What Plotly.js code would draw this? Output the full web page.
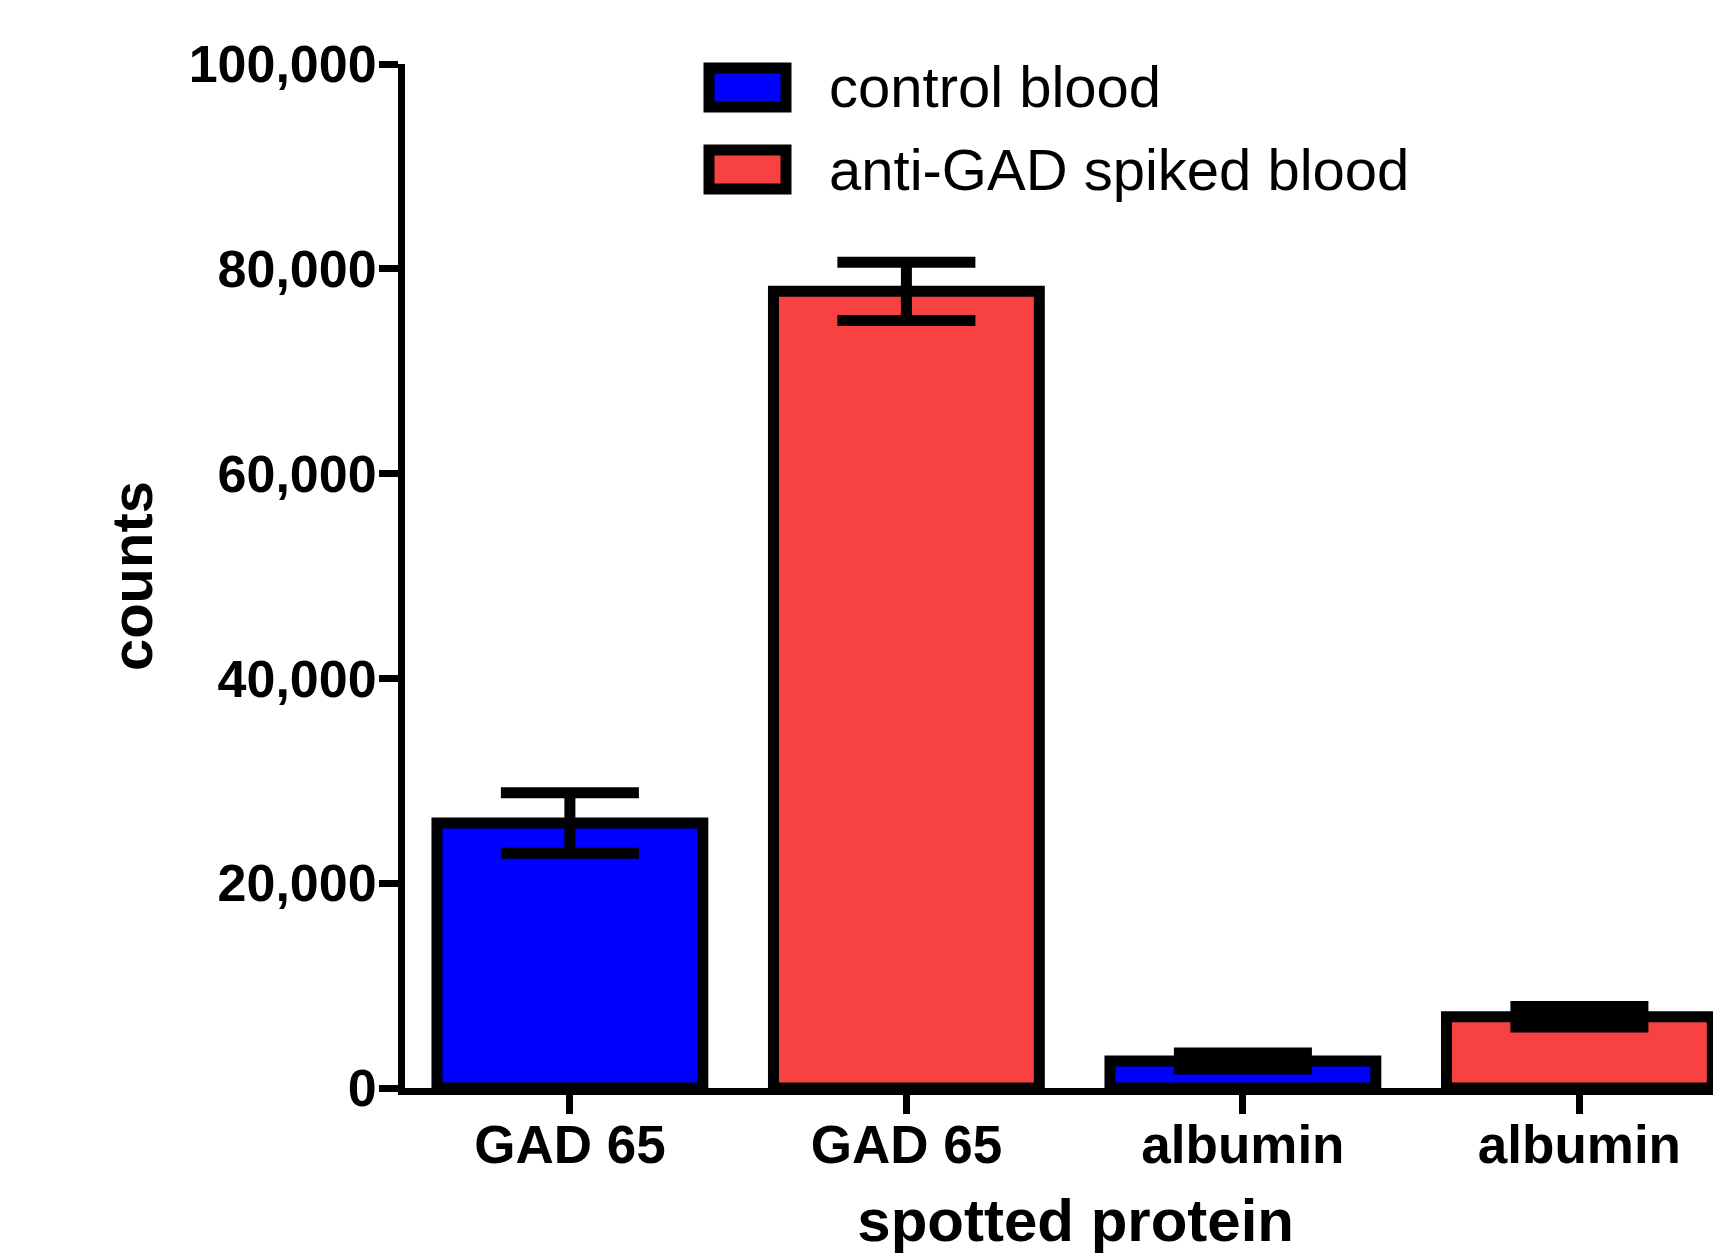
<!DOCTYPE html>
<html>
<head>
<meta charset="utf-8">
<script src="https://cdn.plot.ly/plotly-3.0.1.min.js"></script>
<style>
  html, body { margin: 0; padding: 0; background: #ffffff; }
  #chart { width: 1713px; height: 1254px; }
</style>
</head>
<body>
<div id="chart"></div>
<script>
// ---- data ----
const proteins = ["GAD 65", "albumin"];
const seriesNames = ["control blood", "anti-GAD spiked blood"];
const controlMean = [25880, 2630];
const controlErr  = [2950, 780];
const spikedMean  = [77800, 6950];
const spikedErr   = [2850, 1000];
const yTickVals = [0, 20000, 40000, 60000, 80000, 100000];

// ---- styling ----
const BLUE = "#0000FF";
const RED = "#F84242";
const FONT = "Liberation Sans, Arial, sans-serif";
const W = 1713, H = 1254;
const M = { l: 405, r: 0, t: 64, b: 166 };
const plotW = W - M.l - M.r, plotH = H - M.t - M.b;
const px2x = p => (p - M.l) / plotW;
const px2y = p => (H - M.b - p) / plotH;

// each protein has a control bar followed by a spiked bar
const xControl = proteins.map((_, i) => 2 * i);
const xSpiked = proteins.map((_, i) => 2 * i + 1);
const tickVals = [];
const tickText = [];
proteins.forEach((p, i) => { tickVals.push(2 * i, 2 * i + 1); tickText.push(p, p); });

const barCommon = {
  type: "bar",
  width: 0.79,
  showlegend: false,
  cliponaxis: true,
  hoverinfo: "y"
};

const traces = [
  Object.assign({}, barCommon, {
    name: seriesNames[0],
    x: xControl,
    y: controlMean,
    marker: { color: BLUE, line: { color: "#000000", width: 11 } },
    error_y: { type: "data", array: controlErr, visible: true, color: "#000000", thickness: 11, width: 69 }
  }),
  Object.assign({}, barCommon, {
    name: seriesNames[1],
    x: xSpiked,
    y: spikedMean,
    marker: { color: RED, line: { color: "#000000", width: 11 } },
    error_y: { type: "data", array: spikedErr, visible: true, color: "#000000", thickness: 11, width: 69 }
  })
];

// legend drawn as swatches + text (large boxed swatches as in the reference)
const legendRows = [
  { name: seriesNames[0], color: BLUE, top: 68, bottom: 107, textY: 86 },
  { name: seriesNames[1], color: RED, top: 150, bottom: 189, textY: 169 }
];
const shapes = legendRows.map(r => ({
  type: "rect", xref: "paper", yref: "paper",
  x0: px2x(709), x1: px2x(786), y0: px2y(r.bottom), y1: px2y(r.top),
  fillcolor: r.color, line: { color: "#000000", width: 11 }, layer: "above"
}));
const annotations = legendRows.map(r => ({
  xref: "paper", yref: "paper", x: px2x(827), y: px2y(r.textY),
  xanchor: "left", yanchor: "middle", showarrow: false,
  text: r.name, font: { family: FONT, size: 58, color: "#000000" }
}));

const layout = {
  width: W, height: H,
  margin: M,
  paper_bgcolor: "#ffffff",
  plot_bgcolor: "#ffffff",
  barmode: "overlay",
  showlegend: false,
  font: { family: FONT, color: "#000000" },
  xaxis: {
    range: [-0.49, 3.397],
    tickmode: "array",
    tickvals: tickVals,
    ticktext: tickText,
    ticks: "outside", ticklen: 19, tickwidth: 7, tickcolor: "#000000",
    ticklabelstandoff: -15,
    showline: true, linewidth: 7, linecolor: "#000000",
    showgrid: false, zeroline: false,
    tickfont: { family: FONT, size: 53, color: "#000000", weight: "bold" },
    title: { text: "<b>&nbsp;&nbsp;spotted protein</b>", font: { family: FONT, size: 60, color: "#000000" }, standoff: 34 },
    automargin: false,
    fixedrange: true
  },
  yaxis: {
    range: [0, 100000],
    tickmode: "array",
    tickvals: yTickVals,
    tickformat: ",d",
    ticks: "outside", ticklen: 19, tickwidth: 7, tickcolor: "#000000",
    ticklabelstandoff: -8,
    showline: true, linewidth: 7, linecolor: "#000000",
    showgrid: false, zeroline: false,
    tickfont: { family: FONT, size: 52, color: "#000000", weight: "bold" },
    title: { text: "<b>counts</b>", font: { family: FONT, size: 58, color: "#000000" }, standoff: 20 },
    automargin: false,
    fixedrange: true
  },
  shapes: shapes,
  annotations: annotations
};

Plotly.newPlot("chart", traces, layout, { displayModeBar: false, staticPlot: true });
</script>
</body>
</html>
